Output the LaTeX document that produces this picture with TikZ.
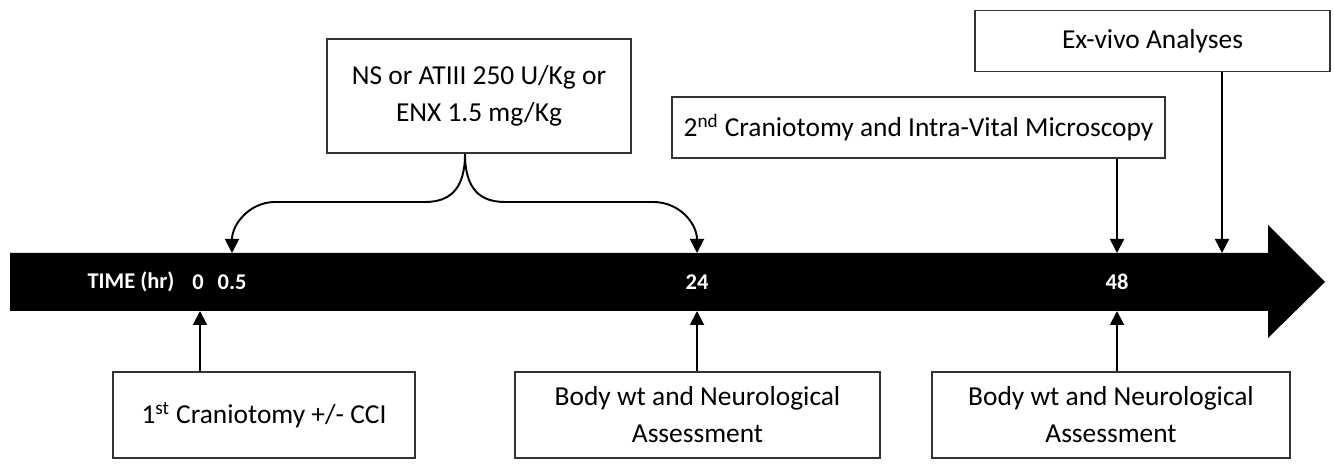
\documentclass[tikz,border=0pt]{standalone}
\usepackage{fontspec}
\setmainfont{Carlito}
\usepackage{tikz}
\usetikzlibrary{arrows.meta,positioning,calc}

\begin{document}
\begin{tikzpicture}[
  box/.style={draw=black!80, line width=1pt, minimum height=1.22cm, align=center,
              font=\fontsize{15.6}{21}\selectfont, inner sep=2pt},
  tall/.style={box, minimum height=1.72cm},
  arrow/.style={-{Triangle[length=2.8mm,width=2.8mm]}, line width=1.1pt},
  tick/.style={text=white, font=\bfseries\fontsize{12.8}{15}\selectfont}
]
  \useasboundingbox (0,0) rectangle (26.68,9.28);

  % Timeline
  \fill (0.2,3.06) -- (25.36,3.06) -- (25.36,2.52) -- (26.5,3.64)
        -- (25.36,4.78) -- (25.36,4.22) -- (0.2,4.22) -- cycle;
  \node[tick] (time) at (2.62,3.64) {TIME (hr)};
  \node[tick] (h0) at (3.96,3.64) {0};
  \node[tick] (h05) at (4.64,3.64) {0.5};
  \node[tick] (h24) at (13.94,3.64) {24};
  \node[tick] (h48) at (22.34,3.64) {48};

  % points on the bar
  \coordinate (b0) at (4.0,3.06);
  \coordinate (b24) at (13.94,3.06);
  \coordinate (b48) at (22.34,3.06);
  \coordinate (t05) at (4.64,4.22);
  \coordinate (t24) at (13.94,4.22);
  \coordinate (t48) at (22.34,4.22);
  \coordinate (tex) at (24.44,4.22);

  % Top boxes
  \node[box, minimum width=6.08cm, minimum height=2.28cm] (drug) at (9.58,7.36)
    {NS or ATIII 250 U/Kg or\\ENX 1.5 mg/Kg};
  \node[box, minimum width=9.86cm] (cran2) at (18.37,6.73)
    {2\textsuperscript{nd} Craniotomy and Intra-Vital Microscopy};
  \node[box, minimum width=7.1cm] (exvivo) at (23.05,8.46) {Ex-vivo Analyses};

  % Bottom boxes
  \node[tall, minimum width=6.04cm] (cran1) at (5.28,0.98)
    {1\textsuperscript{st} Craniotomy +/- CCI};
  \node[tall, minimum width=7.3cm] (neuro24) at (13.95,0.98)
    {Body wt and Neurological\\Assessment};
  \node[tall, minimum width=7.16cm] (neuro48) at (22.22,0.98)
    {Body wt and Neurological\\Assessment};

  % Brace from the treatment box
  \coordinate (brace) at ([xshift=-0.28cm]drug.south);
  \draw[arrow] (brace) .. controls (9.3,5.5) and (9.0,5.24) .. (8.5,5.24)
    -- (5.5,5.24) .. controls (5.0,5.24) and (4.64,4.8) .. (t05);
  \draw[arrow] (brace) .. controls (9.3,5.5) and (9.6,5.24) .. (10.1,5.24)
    -- (13.06,5.24) .. controls (13.6,5.24) and (13.94,4.8) .. (t24);

  % Arrows
  \draw[arrow] (cran2.south -| t48) -- (t48);
  \draw[arrow] (exvivo.south -| tex) -- (tex);
  \draw[arrow] (cran1.north -| b0) -- (b0);
  \draw[arrow] (neuro24.north -| b24) -- (b24);
  \draw[arrow] (neuro48.north -| b48) -- (b48);
\end{tikzpicture}
\end{document}
